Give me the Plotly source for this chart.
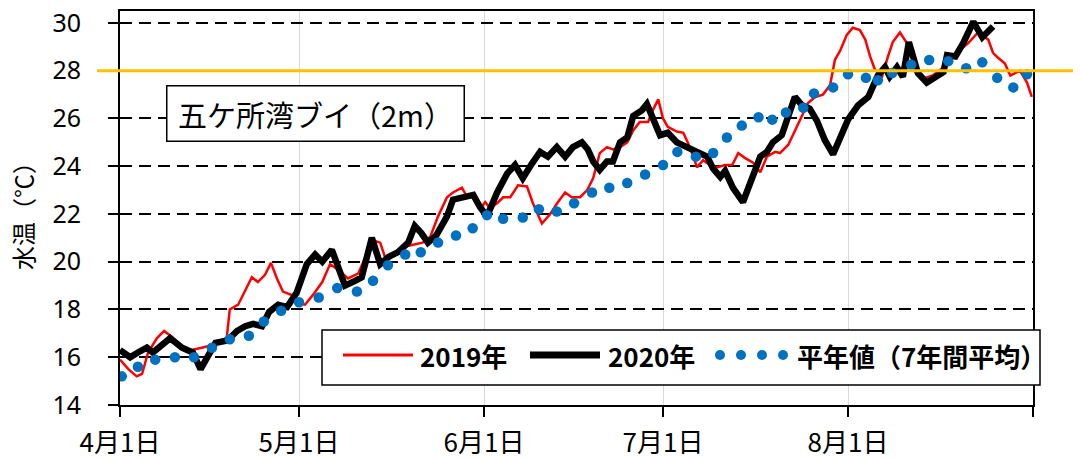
import pandas as pd
import plotly.graph_objects as go

# days counted from 4/1, temperatures in deg C
days_2019 = [0, 1.4, 2.8, 3.7, 4.7, 6.2, 7.4, 8.7, 10.4, 12, 13.7, 15.4, 17.1, 17.9, 18.4, 19.8,
             21.3, 22.1, 23.1, 24.3, 25.3, 26.3, 27.3, 28.8, 29.9, 31, 32.3, 33.9, 35.2, 36.6,
             38.2, 39.9, 41.4, 42.4, 43.6, 44.4, 45.8, 47.3, 48.9, 50.7, 52, 53.3, 54.8, 55.8,
             57.3, 58.2, 59.5, 60.3, 61.2, 62, 63.2, 64.2, 65.4, 66.7, 68.2, 69.2, 70.7, 72.1,
             73.4, 74.6, 75.7, 77.1, 78.3, 79.3, 80.4, 81.6, 82.6, 83.8, 85, 86, 87.1, 88.5,
             89.3, 90.2, 91, 91.8, 93.3, 94.4, 95.5, 96.7, 97.7, 98.9, 100, 101.4, 102.6, 103.6,
             104.7, 106.1, 107.3, 108.4, 109.8, 110.6, 112, 113.1, 114.3, 115.3, 116.5, 117.8,
             119, 119.8, 120.7, 121.8, 122.8, 124, 124.9, 125.7, 126.5, 127.7, 128.7, 129.5,
             130.7, 131.9, 132.7, 133.7, 134.9, 136.2, 137.8, 138.8, 140.4, 142.1, 143.8, 145.5,
             146.3, 147.1, 148.3, 149.2, 150, 150.8, 152, 152.8]
temp_2019 = [15.9, 15.5, 15.2, 15.3, 16.2, 16.8, 17.1, 16.85, 16.4, 16.3, 16.4, 16.5, 16.65, 16.85,
             18.0, 18.2, 18.95, 19.35, 19.15, 19.45, 19.95, 19.3, 18.75, 18.6, 18.25, 18.2, 18.6,
             19.15, 19.9, 19.65, 19.3, 19.5, 20.35, 20.9, 20.8, 20.2, 20.35, 20.6, 20.7, 20.8,
             21.05, 21.9, 22.7, 22.9, 23.1, 22.7, 22.7, 22.2, 22.5, 22.25, 22.45, 22.7, 22.7,
             23.2, 23.15, 22.45, 21.6, 22.0, 22.5, 22.9, 22.7, 22.7, 23.0, 23.5, 24.55, 24.8,
             24.7, 24.8, 25.0, 25.5, 25.85, 25.85, 26.35, 26.8, 26.0, 25.65, 25.45, 25.4, 24.8,
             23.95, 24.25, 24.05, 23.95, 24.05, 24.05, 24.55, 24.35, 24.15, 23.75, 24.4, 24.6,
             24.55, 24.9, 25.5, 26.15, 26.65, 26.9, 27.0, 27.4, 28.45, 28.85, 29.5, 29.8, 29.7,
             29.3, 28.6, 28.05, 27.75, 28.6, 29.2, 29.6, 29.15, 28.6, 27.9, 27.7, 27.8, 28.1,
             28.35, 28.8, 29.15, 29.6, 29.3, 28.75, 28.55, 28.3, 27.8, 27.9, 28.0, 27.5, 26.9]

days_2020 = [0, 1.7, 3, 4.5, 5.5, 7.5, 8.4, 10.4, 12.2, 13.5, 14.5, 16, 18, 19.6, 21, 22.3, 23.8,
             25, 26.5, 28, 29.6, 31.3, 32.7, 33.9, 35.5, 36.6, 37.7, 39.4, 40.5, 42.2, 43.6, 45,
             46.6, 48.3, 49.4, 50.5, 51.6, 53, 54.8, 55.8, 57.5, 59.2, 60.3, 61.5, 63.2, 64.9,
             66.2, 67.5, 69, 70.4, 71.7, 73.2, 74.6, 75.9, 77.4, 78.4, 79.3, 80.4, 81.6, 82.6,
             83.8, 85, 86, 87.5, 88.3, 89.3, 90.5, 91.8, 93.3, 95, 96.7, 98.4, 99.4, 100.6, 101.4,
             102.7, 104.4, 105.9, 107.3, 108.4, 109.4, 110.9, 112, 113.1, 114.3, 115.6, 116.8,
             118.1, 119.5, 120.7, 122, 123.7, 125.4, 127, 128.2, 129, 130.2, 131.2, 132.2, 132.9,
             133.7, 135.2, 136.6, 138, 138.6, 140, 141.3, 143, 144.5, 146.3]
temp_2020 = [16.3, 16.0, 16.2, 16.4, 16.2, 16.6, 16.8, 16.4, 16.2, 15.5, 16.0, 16.6, 16.7, 17.1,
             17.3, 17.4, 17.3, 17.9, 18.2, 18.1, 18.7, 19.9, 20.3, 20.0, 20.5, 19.8, 19.0, 19.2,
             19.35, 21.0, 19.9, 20.2, 20.4, 20.8, 21.5, 21.2, 20.8, 21.1, 21.9, 22.6, 22.7, 22.8,
             22.3, 21.9, 22.9, 23.7, 24.05, 23.5, 24.1, 24.6, 24.4, 24.8, 24.4, 24.8, 25.0, 24.7,
             24.2, 23.85, 24.2, 24.2, 25.0, 25.2, 26.1, 26.35, 26.6, 26.0, 25.3, 25.4, 25.0, 24.8,
             24.6, 24.4, 23.9, 23.55, 23.8, 23.1, 22.5, 23.4, 24.4, 24.6, 25.0, 25.3, 26.05, 26.9,
             26.55, 26.4, 25.9, 25.1, 24.5, 25.2, 25.95, 26.55, 26.9, 27.8, 28.15, 27.75, 28.15,
             27.75, 29.2, 28.6, 27.9, 27.5, 27.7, 27.95, 28.65, 28.6, 29.15, 30.05, 29.4, 29.85]

days_avg = [0.3, 3.0, 5.9, 9.2, 12.4, 15.4, 18.4, 21.6, 24.1, 27, 30, 33.3, 36.4, 39.7, 42.4, 44.9,
            47.8, 50.4, 53.3, 56.3, 59.1, 61.5, 64.2, 67.5, 70.2, 73.2, 76.1, 79.1, 82, 85, 88, 91,
            93.4, 96.5, 99.4, 101.7, 104.2, 107, 109.3, 111.6, 114.5, 116.3, 119.5, 122, 125, 127,
            129.4, 132.6, 135.6, 138.8, 141.8, 144.5, 147, 149.7, 152]
temp_avg = [15.2, 15.6, 15.9, 16.0, 16.0, 16.4, 16.75, 16.9, 17.5, 17.95, 18.3, 18.5, 18.9, 18.75,
            19.2, 19.85, 20.3, 20.4, 20.8, 21.1, 21.4, 21.95, 21.8, 21.85, 22.2, 22.1, 22.45, 22.9,
            23.1, 23.3, 23.65, 24.05, 24.6, 24.4, 24.55, 25.2, 25.7, 26.05, 25.95, 26.25, 26.45,
            27.05, 27.3, 27.85, 27.7, 27.6, 27.9, 28.25, 28.45, 28.4, 28.1, 28.35, 27.7, 27.3, 27.85]

month_ticks = ["2020-04-01", "2020-05-01", "2020-06-01", "2020-07-01", "2020-08-01", "2020-09-01"]
month_labels = ["4月1日", "5月1日", "6月1日", "7月1日", "8月1日", ""]
y_ticks = [14, 16, 18, 20, 22, 24, 26, 28, 30]
threshold = 28

series_names = ["2019年", "2020年", "平年値（7年間平均）"]
station = "五ケ所湾ブイ（2m）"
y_title = "水温（℃）"

JP = "Noto Sans CJK JP"
start = pd.Timestamp("2020-04-01")


def to_dates(days):
    return start + pd.to_timedelta(days, unit="D")


fig = go.Figure()
fig.add_trace(go.Scatter(x=to_dates(days_2019), y=temp_2019, mode="lines",
                         line=dict(color="#ff0000", width=2.5), showlegend=False))
fig.add_trace(go.Scatter(x=to_dates(days_2020), y=temp_2020, mode="lines",
                         line=dict(color="#000000", width=6.5), showlegend=False))
fig.add_trace(go.Scatter(x=to_dates(days_avg), y=temp_avg, mode="markers",
                         marker=dict(color="#0070c0", size=10.5), showlegend=False))

# 28 degree reference line, runs a bit past both plot edges
fig.add_shape(type="line", xref="paper", yref="y", x0=-0.025, x1=1.05,
              y0=threshold, y1=threshold, line=dict(color="#ffc000", width=3))

# helpers: screen pixel -> paper coords (plot area is x 120..1033, y 11..405 on screen)
lx = lambda px: (px - 120) / 913
ly = lambda py: (405 - py) / 394

# hand-made legend box (dotted marker row like the original)
fig.add_shape(type="rect", xref="paper", yref="paper", x0=lx(322), x1=lx(1040),
              y0=ly(385), y1=ly(330), line=dict(color="black", width=1.5), fillcolor="white")
fig.add_shape(type="line", xref="paper", yref="paper", x0=lx(343), x1=lx(413),
              y0=ly(355), y1=ly(355), line=dict(color="#ff0000", width=3))
fig.add_shape(type="line", xref="paper", yref="paper", x0=lx(530), x1=lx(600),
              y0=ly(355), y1=ly(355), line=dict(color="black", width=7))
for cx in [720, 741, 762, 783]:
    fig.add_shape(type="circle", xref="paper", yref="paper",
                  x0=lx(cx - 5), x1=lx(cx + 5), y0=ly(360), y1=ly(350),
                  line=dict(width=0), fillcolor="#0070c0")
for name, left in zip(series_names, [418, 606, 795]):
    fig.add_annotation(xref="paper", yref="paper", x=lx(left), y=ly(355), xanchor="left",
                       yanchor="middle", text="<b>%s</b>" % name, showarrow=False,
                       font=dict(family=JP, size=26, color="black"))

# station label box
fig.add_annotation(xref="paper", yref="paper", x=lx(315), y=ly(113), text=station,
                   xanchor="center", yanchor="middle",
                   showarrow=False, font=dict(family=JP, size=29, color="black"),
                   bgcolor="white", bordercolor="black", borderwidth=1.5,
                   width=292, height=50, borderpad=2)

# y-axis title
fig.add_annotation(xref="paper", yref="paper", x=lx(22), y=ly(210), text=y_title,
                   xanchor="center", yanchor="middle",
                   textangle=-90, showarrow=False, font=dict(family=JP, size=24, color="black"))

# the page body adds an 8px margin on the top/left, so shrink the figure by 8px
fig.update_layout(
    width=1073, height=450,
    margin=dict(l=112, r=48, t=3, b=53),
    paper_bgcolor="white", plot_bgcolor="white",
    showlegend=False,
)
fig.update_xaxes(
    type="date", range=[month_ticks[0], month_ticks[-1]],
    tickmode="array", tickvals=month_ticks, ticktext=month_labels,
    showgrid=True, gridcolor="#d9d9d9", gridwidth=1,
    showline=True, linecolor="black", linewidth=2, mirror=True,
    ticks="outside", ticklen=10, tickcolor="black", tickwidth=1.5,
    tickfont=dict(family=JP, size=26, color="black"), ticklabelstandoff=4,
    ticklabeloverflow="allow", automargin=False,
)
fig.update_yaxes(
    range=[14, 30.5], tickmode="array", tickvals=y_ticks,
    showgrid=True, gridcolor="black", gridwidth=2, griddash="12px,7px",
    showline=True, linecolor="black", linewidth=2, mirror=True,
    ticks="outside", ticklen=10, tickcolor="black", tickwidth=1.5,
    tickfont=dict(family="Noto Sans", size=25, color="black"),
    ticklabelstandoff=22, ticklabeloverflow="allow", zeroline=False, automargin=False,
)

fig.write_html("out.html")
